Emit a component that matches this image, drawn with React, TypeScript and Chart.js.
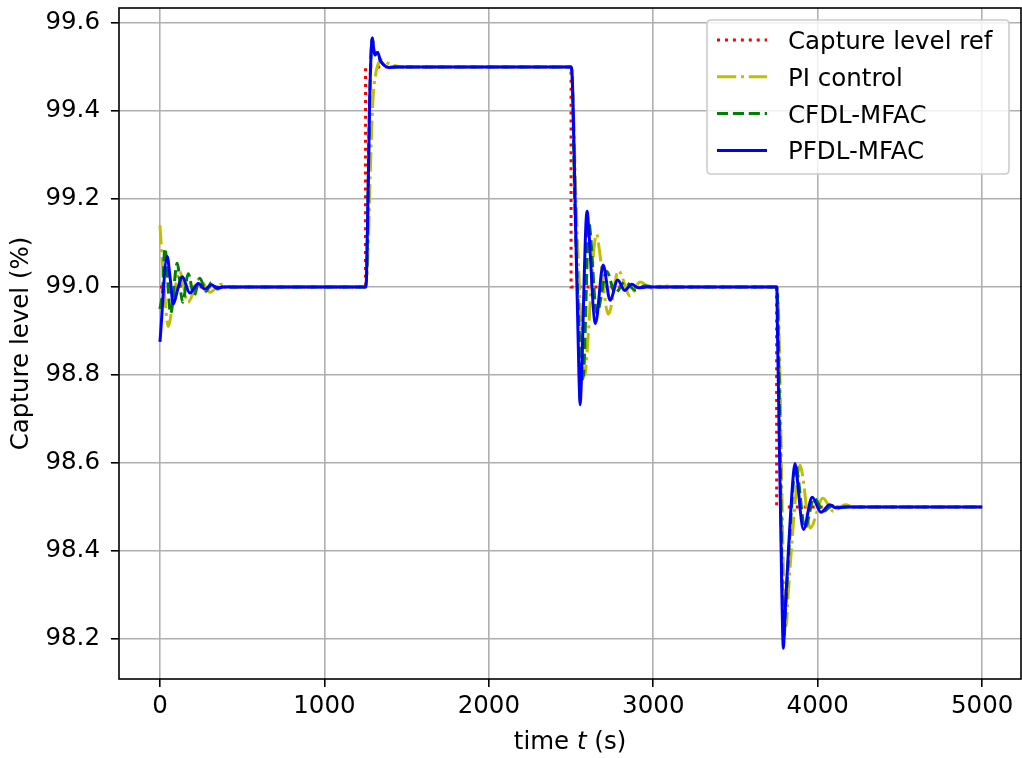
import React, { useEffect, useRef } from "react";
import { Chart, registerables } from "chart.js";

Chart.register(...registerables);

// ---- data ----
const refT = [0, 1250, 1250, 2500, 2500, 3750, 3750, 5000];
const refY = [99.0, 99.0, 99.5, 99.5, 99.0, 99.0, 98.5, 98.5];

const piT = [0, 25, 51, 85, 120, 170, 240, 305, 370, 440, 500, 1250, 1262, 1285, 1296, 1310, 1325, 1348, 1390, 1430, 1480, 2500, 2508, 2530, 2560, 2577, 2585, 2593, 2640, 2656, 2670, 2727, 2788, 2859, 2920, 2990, 3060, 3120, 3750, 3758, 3795, 3808, 3820, 3878, 3893, 3908, 3954, 4031, 4096, 4167, 4230, 4290, 5000];
const piY = [99.14, 99.0, 98.91, 98.985, 99.035, 98.965, 99.018, 98.988, 99.006, 98.998, 99.0, 99.0, 99.05, 99.33, 99.43, 99.48, 99.505, 99.516, 99.508, 99.503, 99.5, 99.5, 99.47, 99.2, 98.92, 98.815, 98.8, 98.83, 99.09, 99.12, 99.09, 98.938, 99.037, 98.98, 99.011, 98.997, 99.003, 99.0, 99.0, 98.98, 98.3, 98.23, 98.3, 98.57, 98.595, 98.57, 98.452, 98.52, 98.49, 98.505, 98.499, 98.5, 98.5];

const cfdlT = [0, 16, 30, 65, 105, 138, 172, 207, 243, 280, 314, 349, 390, 430, 1250, 1256, 1275, 1285, 1292, 1300, 1308, 1316, 1324, 1340, 1360, 1390, 1430, 2500, 2507, 2522, 2550, 2563, 2571, 2579, 2603, 2610, 2618, 2656, 2717, 2768, 2828, 2889, 2950, 3000, 3750, 3755, 3788, 3795, 3802, 3855, 3868, 3880, 3922, 3978, 4035, 4090, 4140, 4180, 5000];
const cfdlY = [98.95, 98.99, 99.088, 98.94, 99.054, 98.965, 99.03, 98.98, 99.02, 98.99, 99.01, 98.995, 99.002, 99.0, 99.0, 99.02, 99.42, 99.54, 99.566, 99.54, 99.527, 99.531, 99.533, 99.515, 99.505, 99.499, 99.5, 99.5, 99.48, 99.2, 98.9, 98.81, 98.79, 98.82, 99.12, 99.145, 99.12, 98.94, 99.035, 98.986, 99.012, 98.993, 99.003, 99.0, 99.0, 98.98, 98.25, 98.2, 98.25, 98.57, 98.598, 98.57, 98.452, 98.52, 98.49, 98.503, 98.499, 98.5, 98.5];

const pfdlT = [0, 44, 62, 81, 108, 136, 182, 233, 274, 314, 345, 390, 1250, 1256, 1275, 1285, 1292, 1300, 1308, 1316, 1324, 1340, 1360, 1390, 1430, 2500, 2505, 2530, 2548, 2555, 2562, 2590, 2598, 2606, 2648, 2695, 2737, 2784, 2826, 2869, 2910, 2960, 3750, 3752, 3755, 3782, 3791, 3800, 3852, 3862, 3872, 3913, 3966, 4020, 4073, 4110, 4160, 5000];
const pfdlY = [98.875, 99.069, 99.02, 98.961, 98.995, 99.023, 98.986, 99.008, 98.995, 99.005, 98.998, 99.0, 99.0, 99.02, 99.42, 99.54, 99.566, 99.54, 99.527, 99.531, 99.533, 99.515, 99.505, 99.499, 99.5, 99.5, 99.49, 99.1, 98.8, 98.732, 98.78, 99.14, 99.172, 99.14, 98.917, 99.05, 98.97, 99.016, 98.992, 99.006, 98.998, 99.0, 99.0, 98.99, 98.9, 98.3, 98.179, 98.25, 98.575, 98.599, 98.575, 98.449, 98.522, 98.488, 98.505, 98.498, 98.5, 98.5];

const xTicks = [0, 1000, 2000, 3000, 4000, 5000];
const yTicks = [98.2, 98.4, 98.6, 98.8, 99.0, 99.2, 99.4, 99.6];

const seriesNames = ["Capture level ref", "PI control", "CFDL-MFAC", "PFDL-MFAC"];
const seriesColors = ["#ff0000", "#bfbf00", "#008000", "#0000ff"];
const seriesDash = [[3, 4.95], [19.2, 4.8, 3, 4.8], [11.1, 4.8], []];

const FONT = "'DejaVu Sans', sans-serif";
const FS = 24.5;

const toPts = (t: number[], y: number[]) => t.map((v, i) => ({ x: v, y: y[i] }));

const framePlugin = {
  id: "frameAndText",
  afterDraw(chart: any) {
    const ctx = chart.ctx as CanvasRenderingContext2D;
    const a = chart.chartArea;
    ctx.save();
    // spines
    ctx.strokeStyle = "#000";
    ctx.lineWidth = 1.6;
    ctx.setLineDash([]);
    ctx.strokeRect(a.left, a.top, a.right - a.left, a.bottom - a.top);

    // legend
    const bx = 707, by = 20, bw = 302, bh = 154, r = 4;
    ctx.beginPath();
    ctx.moveTo(bx + r, by);
    ctx.lineTo(bx + bw - r, by);
    ctx.quadraticCurveTo(bx + bw, by, bx + bw, by + r);
    ctx.lineTo(bx + bw, by + bh - r);
    ctx.quadraticCurveTo(bx + bw, by + bh, bx + bw - r, by + bh);
    ctx.lineTo(bx + r, by + bh);
    ctx.quadraticCurveTo(bx, by + bh, bx, by + bh - r);
    ctx.lineTo(bx, by + r);
    ctx.quadraticCurveTo(bx, by, bx + r, by);
    ctx.closePath();
    ctx.fillStyle = "rgba(255,255,255,0.8)";
    ctx.fill();
    ctx.strokeStyle = "#cccccc";
    ctx.lineWidth = 1.6;
    ctx.stroke();

    ctx.font = `${FS}px ${FONT}`;
    ctx.textAlign = "left";
    ctx.textBaseline = "alphabetic";
    for (let i = 0; i < seriesNames.length; i++) {
      const cy = 40 + i * 36.8;
      ctx.beginPath();
      ctx.setLineDash(seriesDash[i]);
      ctx.lineWidth = 3;
      ctx.strokeStyle = seriesColors[i];
      ctx.moveTo(717, cy);
      ctx.lineTo(767, cy);
      ctx.stroke();
      ctx.setLineDash([]);
      ctx.fillStyle = "#000";
      ctx.fillText(seriesNames[i], 788, cy + 9);
    }

    // x title: "time t (s)" with italic t
    const p1 = "time ", p2 = "t", p3 = " (s)";
    ctx.font = `${FS}px ${FONT}`;
    const w1 = ctx.measureText(p1).width;
    const w3 = ctx.measureText(p3).width;
    ctx.font = `italic ${FS}px ${FONT}`;
    const w2 = ctx.measureText(p2).width;
    const cx = (a.left + a.right) / 2;
    let x0 = cx - (w1 + w2 + w3) / 2;
    const base = 749;
    ctx.fillStyle = "#000";
    ctx.font = `${FS}px ${FONT}`;
    ctx.fillText(p1, x0, base);
    ctx.font = `italic ${FS}px ${FONT}`;
    ctx.fillText(p2, x0 + w1, base);
    ctx.font = `${FS}px ${FONT}`;
    ctx.fillText(p3, x0 + w1 + w2, base);

    // y title
    ctx.translate(22, (a.top + a.bottom) / 2);
    ctx.rotate(-Math.PI / 2);
    ctx.textAlign = "center";
    ctx.textBaseline = "middle";
    ctx.fillText("Capture level (%)", 0, 0);
    ctx.restore();
  },
};

export default function App() {
  const ref = useRef<HTMLCanvasElement | null>(null);
  useEffect(() => {
    if (!ref.current) return;
    const lineCommon = { pointRadius: 0, borderWidth: 3, fill: false, borderCapStyle: "butt" as const };
    const chart = new Chart(ref.current, {
      type: "line",
      data: {
        datasets: [
          { label: seriesNames[3], data: toPts(pfdlT, pfdlY), borderColor: seriesColors[3], borderDash: seriesDash[3], cubicInterpolationMode: "monotone", order: 0, ...lineCommon },
          { label: seriesNames[2], data: toPts(cfdlT, cfdlY), borderColor: seriesColors[2], borderDash: seriesDash[2], cubicInterpolationMode: "monotone", order: 1, ...lineCommon },
          { label: seriesNames[1], data: toPts(piT, piY), borderColor: seriesColors[1], borderDash: seriesDash[1], cubicInterpolationMode: "monotone", order: 2, ...lineCommon },
          { label: seriesNames[0], data: toPts(refT, refY), borderColor: seriesColors[0], borderDash: seriesDash[0], tension: 0, order: 3, ...lineCommon },
        ],
      },
      options: {
        animation: false,
        responsive: false,
        maintainAspectRatio: false,
        layout: { padding: { top: 8, right: 1, left: 0, bottom: 0 } },
        plugins: { legend: { display: false }, tooltip: { enabled: false } },
        scales: {
          x: {
            type: "linear",
            min: -249,
            max: 5236,
            afterBuildTicks: (s: any) => { s.ticks = xTicks.map((v) => ({ value: v })); },
            afterFit: (s: any) => { s.height = 79; s.paddingLeft = 0; s.paddingRight = 0; },
            grid: { color: "#b0b0b0", lineWidth: 1.6, tickColor: "#000", tickLength: 8, tickWidth: 1.6 },
            border: { display: false },
            ticks: { color: "#000", font: { family: FONT, size: FS }, padding: 5, maxRotation: 0, autoSkip: false, callback: (v: any) => String(v) },
          },
          y: {
            type: "linear",
            min: 98.109,
            max: 99.634,
            afterBuildTicks: (s: any) => { s.ticks = yTicks.map((v) => ({ value: v })); },
            afterFit: (s: any) => { s.width = 119; s.paddingTop = 0; s.paddingBottom = 0; },
            grid: { color: "#b0b0b0", lineWidth: 1.6, tickColor: "#000", tickLength: 8, tickWidth: 1.6 },
            border: { display: false },
            ticks: { color: "#000", font: { family: FONT, size: FS }, padding: 11, autoSkip: false, callback: (v: any) => Number(v).toFixed(1) },
          },
        },
      },
      plugins: [framePlugin],
    });
    return () => chart.destroy();
  }, []);
  return (
    <div style={{ position: "fixed", left: 0, top: 0, width: 1022, height: 758, background: "#fff" }}>
      <canvas ref={ref} width={1022} height={758} style={{ width: 1022, height: 758, display: "block" }} />
    </div>
  );
}
